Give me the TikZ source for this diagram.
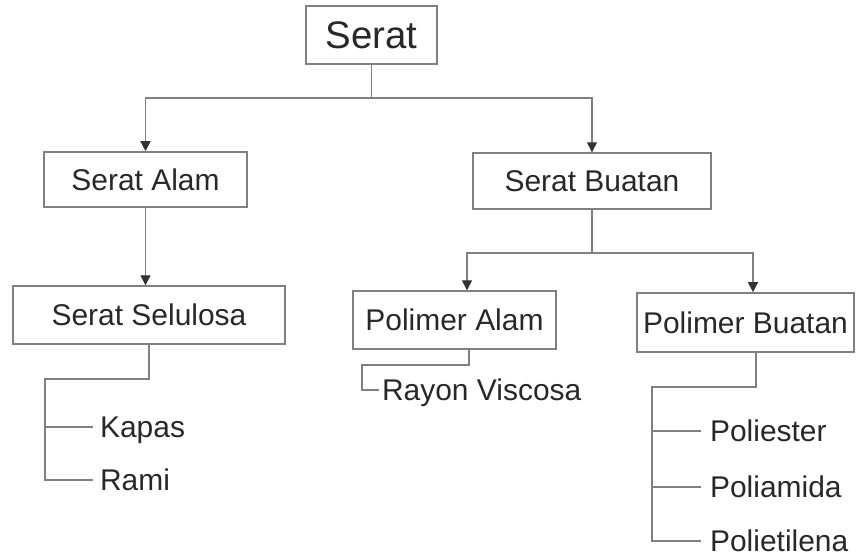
\documentclass[tikz,border=0pt]{standalone}
\usepackage{fontspec}
\setmainfont{Liberation Sans}
\usepackage{xcolor}
\usepackage{tikz}
\usetikzlibrary{arrows.meta,calc,positioning}

\definecolor{linegray}{RGB}{128,128,128}
\definecolor{textdark}{RGB}{40,40,40}
\definecolor{tipdark}{RGB}{50,50,50}

\begin{document}
\begin{tikzpicture}[
    x=0.025cm,
    y=-0.025cm,
    box/.style={
        draw=linegray,
        line width=1pt,
        text=textdark,
        font=\fontsize{21.3}{25}\selectfont,
        text depth=0pt,
        inner sep=0pt
    },
    leaf/.style={
        anchor=west,
        text=textdark,
        font=\fontsize{21.3}{25}\selectfont,
        text depth=0pt,
        inner ysep=0pt,
        inner xsep=0.17cm
    },
    treeline/.style={
        draw=linegray,
        line width=1pt
    },
    downarrow/.style={
        draw=linegray,
        line width=1pt,
        -{Triangle[length=0.25cm,width=0.25cm,color=tipdark]}
    }
]

\useasboundingbox (0,0) rectangle (856,554);

% boxes
\node[box,minimum width=3.28cm,minimum height=1.45cm,
    font=\fontsize{27.3}{32}\selectfont] (serat) at (371.5,35) {Serat};
\node[box,minimum width=5.08cm,minimum height=1.38cm] (alam) at (145.5,179.5) {Serat Alam};
\node[box,minimum width=5.95cm,minimum height=1.40cm] (buatan) at (592,181) {Serat Buatan};
\node[box,minimum width=6.80cm,minimum height=1.45cm] (selulosa) at (149,315) {Serat Selulosa};
\node[box,minimum width=5.08cm,minimum height=1.45cm] (polalam) at (454.5,320) {Polimer Alam};
\node[box,minimum width=5.43cm,minimum height=1.48cm] (polbuatan) at (745.5,322.5) {Polimer Buatan};

% leaves
\node[leaf] (kapas) at (93,427) {Kapas};
\node[leaf] (rami) at (93,480) {Rami};
\node[leaf,inner xsep=0.07cm] (rayon) at (379,390) {Rayon Viscosa};
\node[leaf,inner xsep=0.22cm] (poliester) at (701,431) {Poliester};
\node[leaf,inner xsep=0.22cm] (poliamida) at (701,487) {Poliamida};
\node[leaf,inner xsep=0.22cm] (polietilena) at (701,541) {Polietilena};

% junctions
\coordinate (jserat) at (371.5,98);
\coordinate (jbuatan) at (592,253);
\coordinate (jselulosa) at (45,379);
\coordinate (jpolalam) at (362,365);
\coordinate (jpolbuatan) at (652,387);

\draw[treeline] (serat.south) -- (jserat);
\draw[downarrow] (jserat) -| (alam.north);
\draw[downarrow] (jserat) -| (buatan.north);

\draw[downarrow] (alam.south) -- (alam.south |- selulosa.north);

\draw[treeline] (buatan.south) -- (jbuatan);
\draw[downarrow] (jbuatan) -| ($(polalam.north)+(12.5,0)$);
\draw[downarrow] (jbuatan) -| ($(polbuatan.north)+(7.5,0)$);

\draw[treeline] (selulosa.south) |- (jselulosa) |- (rami.west);
\draw[treeline] (jselulosa |- kapas.west) -- (kapas.west);

\draw[treeline] ($(polalam.south)+(14.5,0)$) |- (jpolalam) |- (rayon.west);

\draw[treeline] ($(polbuatan.south)+(10.5,0)$) |- (jpolbuatan) |- (polietilena.west);
\draw[treeline] (jpolbuatan |- poliester.west) -- (poliester.west);
\draw[treeline] (jpolbuatan |- poliamida.west) -- (poliamida.west);

\end{tikzpicture}
\end{document}
